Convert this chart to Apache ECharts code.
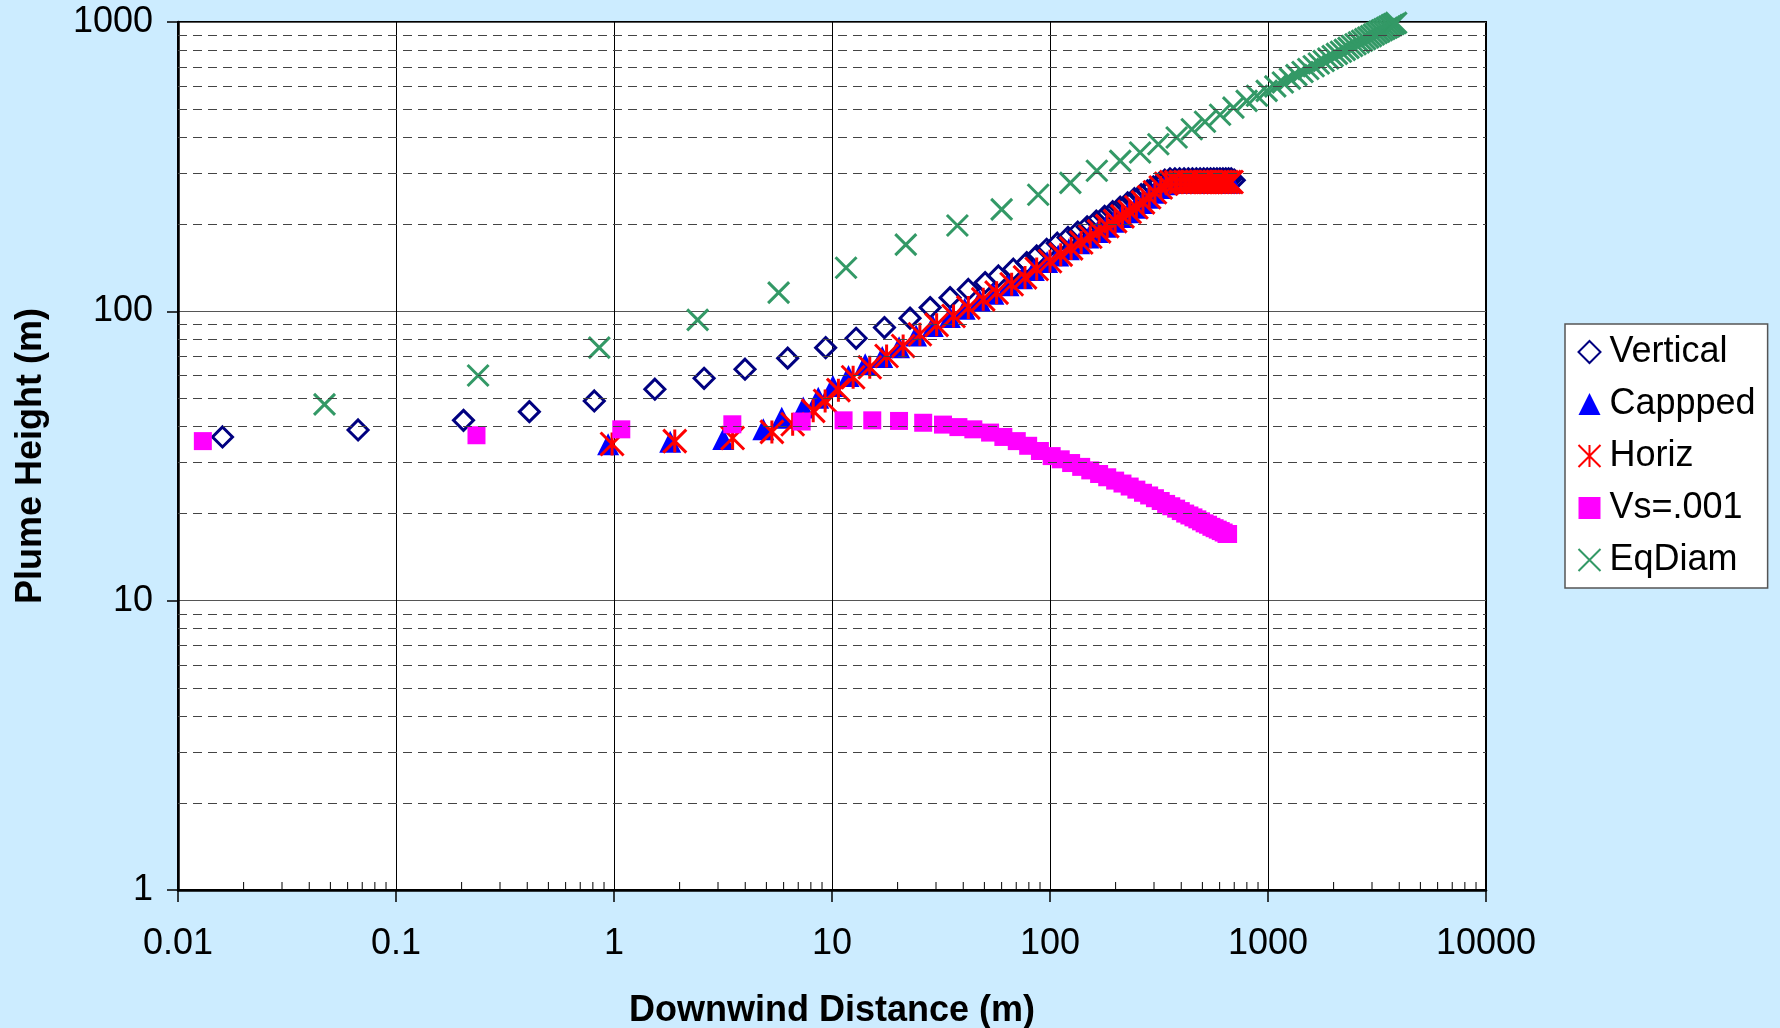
<!DOCTYPE html>
<html>
<head>
<meta charset="utf-8">
<title>Plume Height vs Downwind Distance</title>
<script src="https://cdn.jsdelivr.net/npm/echarts@6/dist/echarts.min.js"></script>
<style>
  html, body { margin: 0; padding: 0; background: #ccecff; }
  #chart { width: 1780px; height: 1028px; }
</style>
</head>
<body>
<div id="chart"></div>
<script>
// values (x = downwind distance m, y = plume height m)
const vertX = [0.016, 0.067, 0.204, 0.409, 0.812, 1.54, 2.59, 3.99, 6.26, 9.35, 12.9, 17.4, 22.8, 28.2, 34.8, 42.2, 50.4, 58.0, 67.9, 78.2, 86.9, 96.5, 108, 121, 134, 148, 163, 178, 194, 210, 227, 244, 262, 280, 298, 317, 336, 355, 374, 393, 412, 431, 450, 469, 488, 507, 526, 545, 564, 583, 602, 621, 640, 659, 678, 700]
const vertY = [36.8, 38.9, 42.0, 45.0, 49.0, 53.8, 58.7, 63.1, 68.9, 74.9, 80.7, 87.9, 94.7, 103, 111.5, 119, 125.7, 132.5, 139.8, 147.3, 155.4, 163.9, 172, 180, 188, 196, 205, 213, 221, 229, 237, 245, 253, 261, 269, 277, 284, 287, 287, 287, 287, 287, 287, 287, 287, 287, 287, 287, 287, 287, 287, 287, 287, 287, 287, 284]

const capX = [0.94, 1.81, 3.17, 4.84, 5.88, 7.38, 8.65, 10.1, 11.9, 14.2, 17.0, 20.3, 24.3, 29.0, 34.7, 40.6, 47.6, 55.0, 64.5, 74.4, 84.3, 97, 109, 122, 136, 150, 165, 180, 196, 212, 229, 246, 264, 282, 300, 319, 338, 357, 376, 395, 414, 433, 452, 471, 490, 509, 528, 547, 566, 585, 604, 623, 642, 661, 677]
const capY = [34.7, 35.4, 36.2, 39.1, 42.9, 46.5, 50.3, 55.2, 59.8, 65.6, 69.5, 75.2, 82.5, 89.0, 95.6, 102, 109, 115, 123, 130, 139, 148, 156, 164, 172, 180, 188, 196, 204, 212, 220, 228, 237, 247, 257, 267, 275, 279, 279, 279, 279, 279, 279, 279, 279, 279, 279, 279, 279, 279, 279, 279, 279, 279, 279]

const horizX = [0.98, 1.9, 3.5, 5.3, 6.6, 8.2, 9.3, 10.7, 12.5, 14.9, 17.8, 21.2, 25.3, 30.2, 36.1, 42.2, 49.4, 56.9, 66.7, 76.8, 86.9, 100, 112, 125, 139, 153, 168, 183, 199, 215, 232, 249, 267, 285, 303, 322, 341, 360, 379, 398, 417, 436, 455, 474, 493, 512, 531, 550, 569, 588, 607, 626, 645, 664, 680]
const horizY = [34.8, 35.6, 36.5, 38.3, 40.7, 45.3, 49.0, 53.4, 59.2, 64.1, 70.1, 75.9, 83.3, 89.8, 96.4, 103, 110, 116, 124, 131, 140, 149, 157, 165, 173, 181, 189, 197, 205, 213, 221, 229, 238, 248, 258, 268, 276, 280, 280, 280, 280, 280, 280, 280, 280, 280, 280, 280, 280, 280, 280, 280, 280, 280, 280]

const vsX = [0.013, 0.234, 1.08, 3.49, 7.26, 11.3, 15.3, 20.3, 26.2, 32.3, 38.0, 44.5, 53.1, 61.1, 70.4, 79.4, 89.9, 101.8, 112, 125, 139, 153, 168, 183, 199, 215, 232, 249, 267, 285, 303, 322, 341, 360, 379, 398, 417, 436, 455, 474, 493, 512, 531, 550, 569, 588, 607, 626, 645, 656]
const vsY = [35.6, 37.3, 39.1, 40.7, 41.6, 42.0, 42.0, 41.8, 41.2, 40.6, 39.8, 39.1, 38.1, 36.8, 35.6, 34.3, 32.9, 31.6, 30.8, 29.9, 29.0, 28.2, 27.4, 26.7, 26.0, 25.4, 24.8, 24.2, 23.6, 23.1, 22.6, 22.1, 21.6, 21.2, 20.8, 20.4, 20.0, 19.7, 19.4, 19.1, 18.8, 18.5, 18.3, 18.0, 17.8, 17.6, 17.4, 17.2, 17.0, 17.0]

const eqX = [0.047, 0.238, 0.856, 2.42, 5.69, 11.6, 21.8, 37.6, 60.0, 88.3, 124, 164, 210, 259, 314, 381, 447, 514, 603, 694, 798, 890, 986, 1080, 1170, 1260, 1350, 1440, 1530, 1620, 1710, 1800, 1890, 1980, 2070, 2160, 2250, 2340, 2430, 2520, 2610, 2700, 2790, 2880, 2970, 3060, 3150, 3240, 3330, 3420, 3510, 3600, 3690, 3780, 3870]
const eqY = [47.7, 60.0, 74.9, 93.4, 116, 141.5, 170, 198, 225, 253, 278, 306, 331, 354, 378, 399, 426, 452, 478, 506, 534, 556, 578, 599, 618, 637, 655, 672, 688, 703, 719, 733, 748, 762, 776, 789, 801, 814, 826, 838, 850, 861, 873, 884, 894, 905, 916, 926, 936, 946, 955, 965, 975, 984, 993]

// minor ticks / dashed grid lines between the decades
const mantissas = [2, 3, 4, 5, 6, 7, 8, 9]
const xDecades = [0.01, 0.1, 1, 10, 100, 1000]
const yDecades = [1, 10, 100]

const FONT = '"Liberation Sans", Arial, sans-serif'
const starPath = 'path://M0,0L20,20M20,0L0,20M10,0L10,20'
const crossPath = 'path://M0,0L20,20M20,0L0,20'

const pts = (xs, ys) => xs.map((x, i) => [x, ys[i]])
const minorOf = decs => decs.flatMap(d => mantissas.map(m => +(m * d).toPrecision(3)))
const logLabel = v => String(+Number(v).toPrecision(3))

const chart = echarts.init(document.getElementById('chart'))

const option = {
    animation: false,
    backgroundColor: '#ccecff',
    grid: {
        left: 178,
        right: 294,
        top: 22,
        bottom: 138,
        outerBoundsMode: 'none',
        show: true,
        backgroundColor: '#fff',
        borderColor: '#000',
        borderWidth: 2
    },
    legend: {
        orient: 'vertical',
        left: 1565,
        top: 324,
        padding: [8, 12, 8, 11],
        itemGap: 12,
        itemWidth: 22,
        itemHeight: 22,
        selectedMode: false,
        backgroundColor: '#fff',
        borderColor: '#555',
        borderWidth: 1.5,
        data: ['Vertical', 'Cappped', 'Horiz', 'Vs=.001', 'EqDiam'],
        textStyle: {
            fontFamily: FONT,
            fontSize: 36,
            color: '#000',
            lineHeight: 40,
            padding: [0, 0, 0, 4]
        }
    },
    xAxis: {
        type: 'log',
        logBase: 10,
        min: 0.01,
        max: 10000,
        splitNumber: 6,
        name: 'Downwind Distance (m)',
        nameLocation: 'middle',
        nameGap: 103,
        nameTextStyle: { fontFamily: FONT, fontSize: 36, fontWeight: 'bold', color: '#000' },
        axisLine: { show: true, onZero: false, lineStyle: { color: '#000', width: 2.5 } },
        axisTick: { show: true, inside: false, length: 12, lineStyle: { color: '#000', width: 1.5 } },
        axisLabel: { fontFamily: FONT, fontSize: 36, color: '#000', margin: 36, formatter: logLabel },
        splitLine: { show: true, lineStyle: { color: '#000', width: 1 } }
    },
    yAxis: {
        type: 'log',
        logBase: 10,
        min: 1,
        max: 1000,
        splitNumber: 3,
        name: 'Plume Height (m)',
        nameLocation: 'middle',
        nameGap: 129,
        nameTextStyle: { fontFamily: FONT, fontSize: 36, fontWeight: 'bold', color: '#000' },
        axisLine: { show: true, onZero: false, lineStyle: { color: '#000', width: 2.5 } },
        axisTick: { show: true, inside: false, length: 11, lineStyle: { color: '#000', width: 1.5 } },
        axisLabel: { fontFamily: FONT, fontSize: 36, color: '#000', margin: 25, formatter: logLabel },
        splitLine: { show: true, lineStyle: { color: '#555', width: 1 } }
    },
    series: [
        {
            // small inward ticks on the x axis + dashed minor grid on y
            type: 'custom',
            z: 1,
            silent: true,
            data: minorOf(xDecades).map(v => [v, 1]),
            encode: { x: 0, y: 1 },
            renderItem: (params, api) => {
                const p = api.coord([api.value(0), api.value(1)])
                return {
                    type: 'line',
                    shape: { x1: p[0], y1: p[1], x2: p[0], y2: p[1] - 8 },
                    style: { stroke: '#000', lineWidth: 1 }
                }
            },
            markLine: {
                silent: true,
                symbol: ['none', 'none'],
                label: { show: false },
                lineStyle: { type: [9, 6], color: '#444', width: 1 },
                data: minorOf(yDecades).map(v => ({ yAxis: v }))
            }
        },
        {
            name: 'Vertical',
            type: 'scatter',
            data: pts(vertX, vertY),
            symbol: 'diamond',
            symbolSize: 20,
            itemStyle: { color: 'none', borderColor: '#000080', borderWidth: 3, opacity: 1 }
        },
        {
            name: 'Cappped',
            type: 'scatter',
            data: pts(capX, capY),
            symbol: 'triangle',
            symbolSize: 22,
            itemStyle: { color: '#0000ff', opacity: 1 }
        },
        {
            name: 'Horiz',
            type: 'scatter',
            data: pts(horizX, horizY),
            symbol: starPath,
            symbolSize: 23,
            itemStyle: { color: 'none', borderColor: '#ff0000', borderWidth: 3, opacity: 1 }
        },
        {
            name: 'Vs=.001',
            type: 'scatter',
            data: pts(vsX, vsY),
            symbol: 'rect',
            symbolSize: 18,
            itemStyle: { color: '#ff00ff', opacity: 1 }
        },
        {
            name: 'EqDiam',
            type: 'scatter',
            data: pts(eqX, eqY),
            symbol: crossPath,
            symbolSize: 21,
            itemStyle: { color: 'none', borderColor: '#339966', borderWidth: 3, opacity: 1 }
        }
    ]
}

chart.setOption(option)
</script>
</body>
</html>
